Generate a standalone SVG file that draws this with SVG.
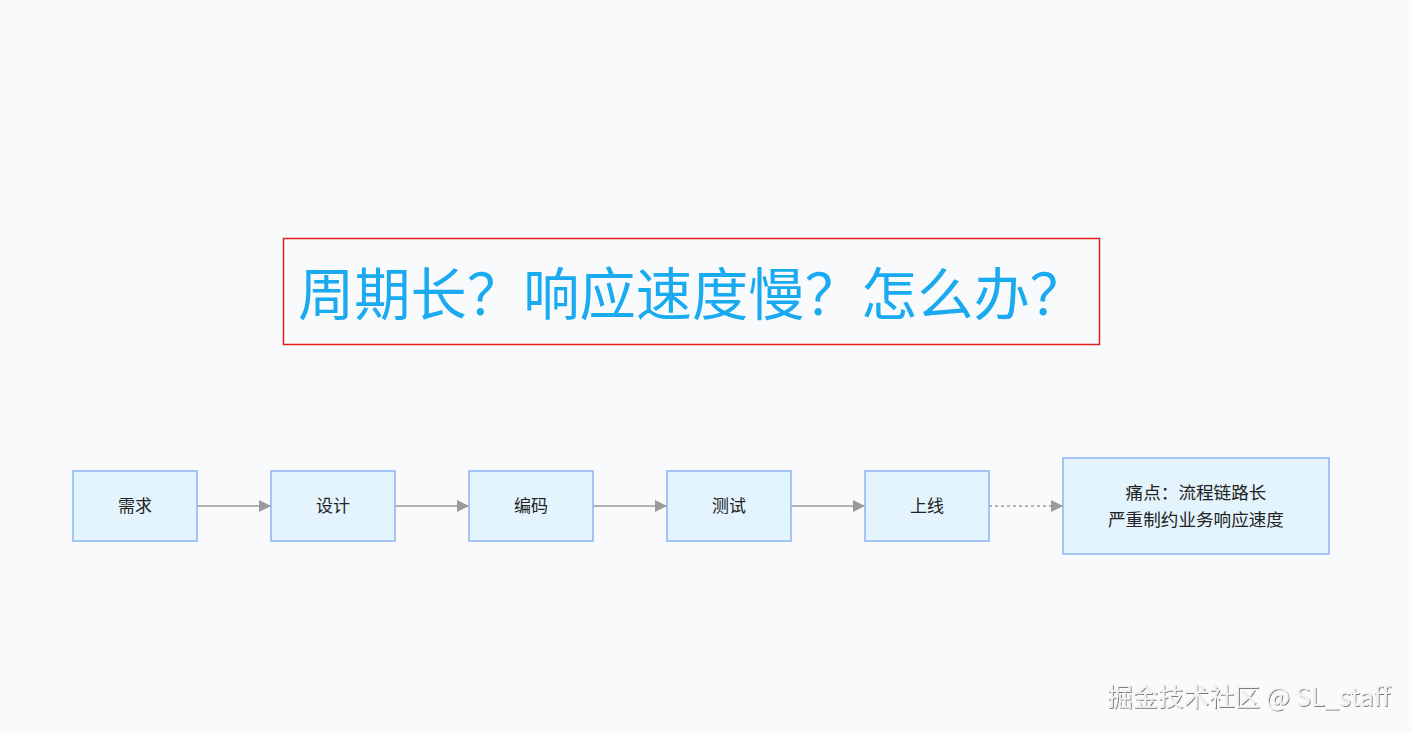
<svg xmlns="http://www.w3.org/2000/svg" width="1412" height="733" viewBox="0 0 1412 733">
<style>
.node rect{fill:#e3f4fd;stroke:#8ab4f4;stroke-width:1.5}
.node text{font-family:"Noto Sans CJK SC","Noto Sans",sans-serif;font-size:17px;fill:#222;text-anchor:middle}
.conn{stroke:#9a9a9a;stroke-width:1.3;fill:none}
.dash{stroke-dasharray:3 3}
</style>
<defs>
<marker id="ah" viewBox="0 0 10 10" refX="10" refY="5" markerWidth="12" markerHeight="12" markerUnits="userSpaceOnUse" orient="auto">
<path d="M0,0L10,5L0,10z" fill="#9a9a9a"/>
</marker>
<filter id="sh" x="-5%" y="-20%" width="110%" height="140%">
<feDropShadow dx="1" dy="1" stdDeviation="0.6" flood-color="#000" flood-opacity="0.5"/>
</filter>
</defs>
<rect width="1412" height="733" fill="#f8fafc"/>
<g id="title">
<rect x="283.5" y="238.5" width="816" height="106" fill="none" stroke="#e02020" stroke-width="1.5"/>
<text x="298" y="315" font-family="Noto Sans CJK SC,sans-serif" font-size="56.3" fill="#1aaaf0">周期长？响应速度慢？怎么办？</text>
</g>
<g id="connectors">
<line class="conn" x1="197" y1="506" x2="271" y2="506" marker-end="url(#ah)"/>
<line class="conn" x1="395" y1="506" x2="469" y2="506" marker-end="url(#ah)"/>
<line class="conn" x1="593" y1="506" x2="667" y2="506" marker-end="url(#ah)"/>
<line class="conn" x1="791" y1="506" x2="865" y2="506" marker-end="url(#ah)"/>
<line class="conn dash" x1="989" y1="506" x2="1063" y2="506" marker-end="url(#ah)"/>
</g>
<g id="n1" class="node"><rect x="73" y="471" width="124" height="70"/><text x="135" y="512">需求</text></g>
<g id="n2" class="node"><rect x="271" y="471" width="124" height="70"/><text x="333" y="512">设计</text></g>
<g id="n3" class="node"><rect x="469" y="471" width="124" height="70"/><text x="531" y="512">编码</text></g>
<g id="n4" class="node"><rect x="667" y="471" width="124" height="70"/><text x="729" y="512">测试</text></g>
<g id="n5" class="node"><rect x="865" y="471" width="124" height="70"/><text x="927" y="512">上线</text></g>
<g id="n6" class="node"><rect x="1063" y="458" width="266" height="96"/><text x="1196" y="499" style="font-size:17.6px">痛点：流程链路长</text><text x="1196" y="526" style="font-size:17.6px">严重制约业务响应速度</text></g>
<text x="1390" y="706" text-anchor="end" font-family="Noto Sans CJK SC,sans-serif" font-size="25.5" fill="#f2f2f2" filter="url(#sh)">掘金技术社区 @ SL_staff</text>
</svg>
